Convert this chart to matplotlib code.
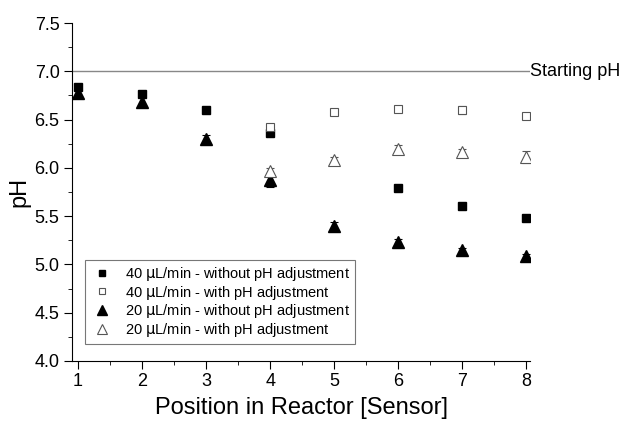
import matplotlib.pyplot as plt
import numpy as np
from matplotlib.ticker import MultipleLocator
from matplotlib.lines import Line2D

plt.rcParams['font.family'] = ['Liberation Sans', 'DejaVu Sans']

# Datos
pos = [1, 2, 3, 4, 5, 6, 7, 8]
ph_40_sin = [6.84, 6.77, 6.60, 6.36, np.nan, 5.79, 5.60, 5.48]
err_40_sin = [0.02, 0.02, 0.01, 0.02, 0.0, 0.01, 0.01, 0.01]
pos_con = [4, 5, 6, 7, 8]
ph_40_con = [6.42, 6.58, 6.61, 6.60, 6.54]
err_40_con = [0.02, 0.02, 0.02, 0.04, 0.02]
ph_20_sin = [6.78, 6.68, 6.30, 5.87, 5.40, 5.23, 5.15, 5.09]
err_20_sin = [0.04, 0.05, 0.04, 0.07, 0.04, 0.03, 0.02, 0.02]
ph_20_con = [5.97, 6.08, 6.20, 6.16, 6.11]
err_20_con = [0.03, 0.03, 0.04, 0.04, 0.06]
ph_inicial = 7.0
etiquetas = [r'40 $\mathrm{\mu}$L/min - without pH adjustment',
             r'40 $\mathrm{\mu}$L/min - with pH adjustment',
             r'20 $\mathrm{\mu}$L/min - without pH adjustment',
             r'20 $\mathrm{\mu}$L/min - with pH adjustment']

fig = plt.figure(figsize=(6.25, 4.23), dpi=100)
ax = fig.add_axes([0.1152, 0.1466, 0.733, 0.799])

ax.axhline(ph_inicial, color='#888888', linewidth=1, zorder=1)
ax.text(1.0, ph_inicial, 'Starting pH', fontsize=13, va='center', ha='left',
        transform=ax.get_yaxis_transform())

kw = dict(linestyle='none', capsize=3, elinewidth=0.8, capthick=0.8)
ax.errorbar(pos, ph_40_sin, yerr=err_40_sin, fmt='s', color='black', ecolor='black',
            markersize=5.5, **kw)
ax.errorbar(pos_con, ph_40_con, yerr=err_40_con, fmt='s', mfc='white', mec='#555555',
            ecolor='#555555', markeredgewidth=0.8, markersize=5.5, **kw)
ax.errorbar(pos, ph_20_sin, yerr=err_20_sin, fmt='^', color='black', ecolor='black',
            markersize=8, **kw)
ax.errorbar(pos_con, ph_20_con, yerr=err_20_con, fmt='^', mfc='white', mec='#555555',
            ecolor='#555555', markeredgewidth=0.8, markersize=8, **kw)

ax.set_xlim(0.906, 8.06)
ax.set_ylim(4.0, 7.5)
ax.xaxis.set_major_locator(MultipleLocator(1))
ax.xaxis.set_minor_locator(MultipleLocator(0.5))
ax.yaxis.set_major_locator(MultipleLocator(0.5))
ax.yaxis.set_minor_locator(MultipleLocator(0.25))
ax.yaxis.set_major_formatter(plt.FormatStrFormatter('%.1f'))
ax.tick_params(which='both', direction='out', labelsize=13, pad=3.5)
ax.tick_params(which='major', length=5.5)
ax.tick_params(which='minor', length=3)
for s in ['top', 'right']:
    ax.spines[s].set_visible(False)

ax.set_xlabel('Position in Reactor [Sensor]', fontsize=17, labelpad=5)
ax.set_ylabel('pH', fontsize=17, labelpad=3)

handles = [
    Line2D([], [], ls='none', marker='s', color='black', markersize=5),
    Line2D([], [], ls='none', marker='s', mfc='white', mec='#555555', mew=0.8, markersize=5),
    Line2D([], [], ls='none', marker='^', color='black', markersize=7),
    Line2D([], [], ls='none', marker='^', mfc='white', mec='#555555', mew=0.8, markersize=7),
]
leg = ax.legend(handles, etiquetas, loc='lower left', bbox_to_anchor=(0.028, 0.05),
                fontsize=10.5, frameon=True, fancybox=False, edgecolor='#555555',
                handletextpad=0.8, labelspacing=0.05, borderpad=0.35, handlelength=1.6,
                borderaxespad=0)
leg.get_frame().set_linewidth(0.8)

plt.savefig('out.png', dpi=100)
